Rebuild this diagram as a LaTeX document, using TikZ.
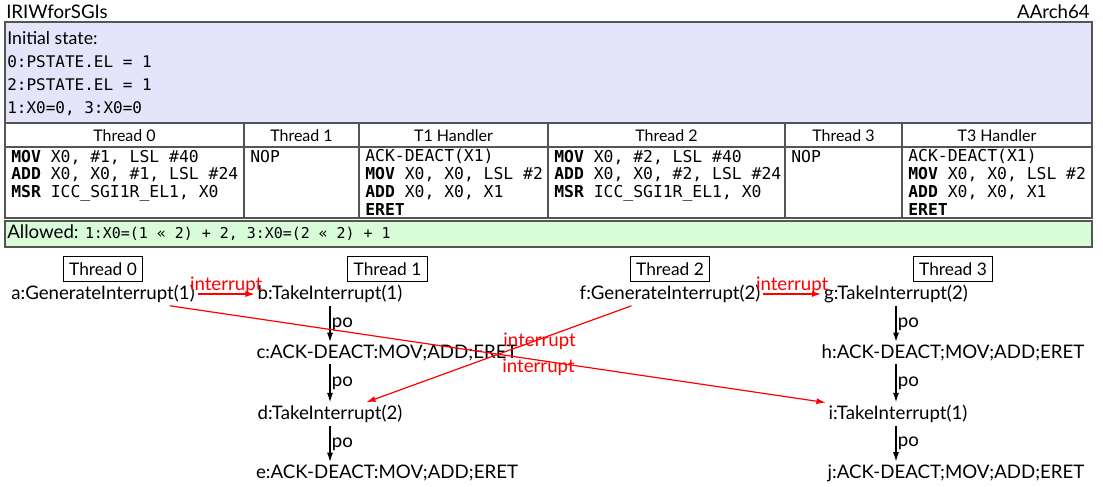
\documentclass[tikz,border=0pt]{standalone}
\usepackage{fontspec}
\setmainfont{Lato}
\setmonofont{DejaVu Sans Mono}
\usetikzlibrary{positioning, arrows.meta}
\definecolor{InitBlue}{RGB}{228, 228, 250}
\definecolor{AllowGreen}{RGB}{216, 252, 216}
\definecolor{RuleGray}{RGB}{85, 85, 85}
\definecolor{IrqRed}{RGB}{255, 0, 0}

\begin{document}
\begin{tikzpicture}[x=0.75pt, y=-0.75pt,
    every node/.style={font=\fontsize{14}{15}\selectfont},
    codecell/.style={anchor=base west, align=left, inner sep=0pt,
      font=\ttfamily\fontsize{12.3}{13.3}\selectfont},
    head/.style={font=\fontsize{12}{13}\selectfont},
    thr/.style={draw, line width=0.6pt, inner xsep=4.5pt, inner ysep=4.5pt,
      font=\fontsize{13}{14}\selectfont},
    ev/.style={inner sep=2pt},
    po/.style={-{Latex[length=7pt, width=4.5pt]}, line width=0.9pt},
    irq/.style={-{Latex[length=7pt, width=4.5pt]}, line width=0.9pt, IrqRed},
    irqlabel/.style={IrqRed, inner sep=1pt}]
    \useasboundingbox (0,0) rectangle (1103,486);

    % Title line
    \node[anchor=base west, inner sep=0pt] (title) at (6,18) {IRIWforSGIs};
    \node[anchor=base east, inner sep=0pt] (arch) at (1090,18) {AArch64};

    % Initial state (base = last line)
    \fill[InitBlue] (5,22) rectangle (1092,123);
    \node[codecell, font=\ttfamily\fontsize{12}{17.2}\selectfont] (init) at (7,113)
      {{\rmfamily\fontsize{13.3}{17.2}\selectfont Initial state:}\\0:PSTATE.EL = 1\\2:PSTATE.EL = 1\\1:X0=0, 3:X0=0};

    % Program table
    \draw[RuleGray, line width=1pt] (5,22) rectangle (1092,218);
    \draw[RuleGray, line width=0.8pt] (5,123) -- (1092,123);
    \draw[RuleGray, line width=0.8pt] (5,147) -- (1092,147);
    \foreach \x in {244, 359, 548, 785, 902}
      \draw[RuleGray, line width=0.8pt] (\x,123) -- (\x,218);
    \foreach \x/\t/\n in {124.5/Thread 0/hd0, 301.5/Thread 1/hd1, 453.5/T1 Handler/hd1h,
        666.5/Thread 2/hd2, 843.5/Thread 3/hd3, 997/T3 Handler/hd3h}
      \node[head] (\n) at (\x,136) {\t};
    \node[codecell] (code0) at (11,197.5)
      {\textbf{MOV} X0, \#1, LSL \#40\\\textbf{ADD} X0, X0, \#1, LSL \#24\\\textbf{MSR} ICC\_SGI1R\_EL1, X0};
    \node[codecell] (code1) at (250,162) {NOP};
    \node[codecell] (code1h) at (365,215)
      {ACK-DEACT(X1)\\\textbf{MOV} X0, X0, LSL \#2\\\textbf{ADD} X0, X0, X1\\\textbf{ERET}};
    \node[codecell] (code2) at (554,197.5)
      {\textbf{MOV} X0, \#2, LSL \#40\\\textbf{ADD} X0, X0, \#2, LSL \#24\\\textbf{MSR} ICC\_SGI1R\_EL1, X0};
    \node[codecell] (code3) at (791,162) {NOP};
    \node[codecell] (code3h) at (908,215)
      {ACK-DEACT(X1)\\\textbf{MOV} X0, X0, LSL \#2\\\textbf{ADD} X0, X0, X1\\\textbf{ERET}};

    % Allowed outcome
    \filldraw[fill=AllowGreen, draw=RuleGray, line width=1pt] (5,221) rectangle (1092,247);
    \node[anchor=base west, inner sep=0pt] (allowed) at (7,238.5)
      {Allowed: \texttt{\fontsize{11.2}{12}\selectfont 1:X0=(1 « 2) + 2, 3:X0=(2 « 2) + 1}};

    % Threads
    \node[thr] (t0) at (103,269) {Thread 0};
    \node[thr] (t1) at (387.5,269) {Thread 1};
    \node[thr] (t2) at (670,269) {Thread 2};
    \node[thr] (t3) at (953,269) {Thread 3};

    % Events
    \node[ev] (a) at (103,294) {a:GenerateInterrupt(1)};
    \node[ev] (b) at (330,294) {b:TakeInterrupt(1)};
    \node[ev] (c) at (387,353) {c:ACK-DEACT:MOV;ADD;ERET};
    \node[ev] (d) at (330,414) {d:TakeInterrupt(2)};
    \node[ev] (e) at (387,473) {e:ACK-DEACT:MOV;ADD;ERET};
    \node[ev] (f) at (670,294) {f:GenerateInterrupt(2)};
    \node[ev] (g) at (896,294) {g:TakeInterrupt(2)};
    \node[ev] (h) at (953,353) {h:ACK-DEACT;MOV;ADD;ERET};
    \node[ev] (i) at (898,414) {i:TakeInterrupt(1)};
    \node[ev] (j) at (956,473) {j:ACK-DEACT;MOV;ADD;ERET};

    % Program order
    \foreach \u/\v in {b/c, c/d, d/e}
      \draw[po] (b.south |- \u.south) -- (b.south |- \v.north)
        node[midway, right, inner sep=1pt] {po};
    \foreach \u/\v in {g/h, h/i, i/j}
      \draw[po] (g.south |- \u.south) -- (g.south |- \v.north)
        node[midway, right, inner sep=1pt] {po};

    % Interrupts
    \draw[irq] (a.east) -- (b.west) node[midway, above, irqlabel, inner sep=0pt] {interrupt};
    \draw[irq] (f.east) -- (g.west) node[midway, above, irqlabel, inner sep=0pt] {interrupt};
    \draw[irq] (f.197) -- (d.18) node[midway, anchor=south west, irqlabel, inner sep=3pt] {interrupt};
    \draw[irq] (a.-10) -- (i.171) node[midway, anchor=north west, irqlabel, inner sep=3pt] {interrupt};
  \end{tikzpicture}
\end{document}
